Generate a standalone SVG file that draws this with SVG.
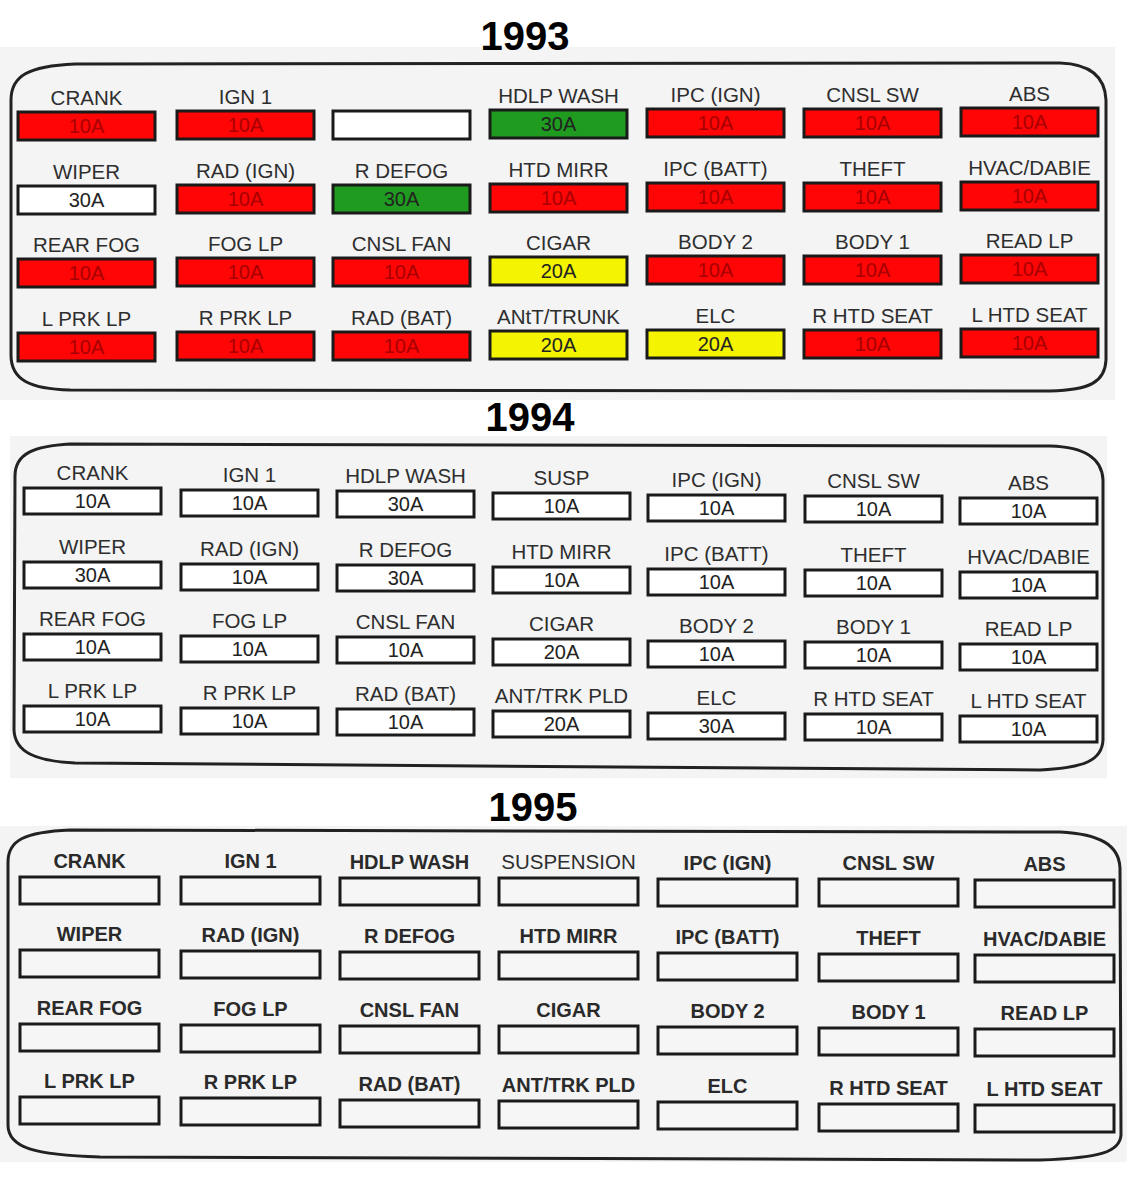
<svg xmlns="http://www.w3.org/2000/svg" width="1132" height="1184" viewBox="0 0 1132 1184">
<style>
.bg{fill:#f4f4f4}
.outline{fill:none;stroke:#222;stroke-width:3}
.title{font-family:"Liberation Sans",Arial,sans-serif;font-weight:bold;font-size:40px;fill:#000;text-anchor:middle}
.lbl{font-family:"Liberation Sans",Arial,sans-serif;font-size:20.5px;fill:#2e2e2e;text-anchor:middle}
.lbl5{font-family:"Liberation Sans",Arial,sans-serif;font-size:20px;font-weight:bold;fill:#2a2a2a;text-anchor:middle}
.val{font-family:"Liberation Sans",Arial,sans-serif;font-size:20px;fill:#222;text-anchor:middle}
.valr{font-family:"Liberation Sans",Arial,sans-serif;font-size:20px;fill:#a80000;text-anchor:middle}
.box{stroke:#1a1a1a;stroke-width:3}
.red{fill:#ff0505}
.grn{fill:#1f9c1f}
.yel{fill:#f4f400}
.wht{fill:#ffffff}
.box4{fill:#f6f6f6;stroke:#1a1a1a;stroke-width:3}
</style>
<rect x="0" y="0" width="1132" height="1184" fill="#ffffff"/>

<!-- 1993 panel -->
<g id="panel-1993">
<rect class="bg" x="0" y="47" width="1115" height="353"/>
<text class="title" x="525" y="50">1993</text>
<path class="outline" d="M11,100 C11,76 28,66 75,64 L1060,63 C1090,64 1105,76 1106,100 L1106,360 C1105,382 1090,390 1050,391 L70,390 C30,389 11,380 11,355 Z"/>
<g id="f93-crank"><rect class="box red" x="18" y="112" width="137" height="28"/><text class="lbl" x="86.5" y="105">CRANK</text><text class="valr" x="86.5" y="133">10A</text></g>
<g id="f93-ign1"><rect class="box red" x="177" y="111" width="137" height="28"/><text class="lbl" x="245.5" y="104">IGN 1</text><text class="valr" x="245.5" y="132">10A</text></g>
<g id="f93-blank"><rect class="box wht" x="333" y="111" width="137" height="28"/></g>
<g id="f93-hdlp"><rect class="box grn" x="490" y="110" width="137" height="28"/><text class="lbl" x="558.5" y="103">HDLP WASH</text><text class="val" x="558.5" y="131">30A</text></g>
<g id="f93-ipcign"><rect class="box red" x="647" y="109" width="137" height="28"/><text class="lbl" x="715.5" y="102">IPC (IGN)</text><text class="valr" x="715.5" y="130">10A</text></g>
<g id="f93-cnslsw"><rect class="box red" x="804" y="109" width="137" height="28"/><text class="lbl" x="872.5" y="102">CNSL SW</text><text class="valr" x="872.5" y="130">10A</text></g>
<g id="f93-abs"><rect class="box red" x="961" y="108" width="137" height="28"/><text class="lbl" x="1029.5" y="101">ABS</text><text class="valr" x="1029.5" y="129">10A</text></g>

<g id="f93-wiper"><rect class="box wht" x="18" y="186" width="137" height="28"/><text class="lbl" x="86.5" y="179">WIPER</text><text class="val" x="86.5" y="207">30A</text></g>
<g id="f93-radign"><rect class="box red" x="177" y="185" width="137" height="28"/><text class="lbl" x="245.5" y="178">RAD (IGN)</text><text class="valr" x="245.5" y="206">10A</text></g>
<g id="f93-rdefog"><rect class="box grn" x="333" y="185" width="137" height="28"/><text class="lbl" x="401.5" y="178">R DEFOG</text><text class="val" x="401.5" y="206">30A</text></g>
<g id="f93-htdmirr"><rect class="box red" x="490" y="184" width="137" height="28"/><text class="lbl" x="558.5" y="177">HTD MIRR</text><text class="valr" x="558.5" y="205">10A</text></g>
<g id="f93-ipcbatt"><rect class="box red" x="647" y="183" width="137" height="28"/><text class="lbl" x="715.5" y="176">IPC (BATT)</text><text class="valr" x="715.5" y="204">10A</text></g>
<g id="f93-theft"><rect class="box red" x="804" y="183" width="137" height="28"/><text class="lbl" x="872.5" y="176">THEFT</text><text class="valr" x="872.5" y="204">10A</text></g>
<g id="f93-hvac"><rect class="box red" x="961" y="182" width="137" height="28"/><text class="lbl" x="1029.5" y="175">HVAC/DABIE</text><text class="valr" x="1029.5" y="203">10A</text></g>

<g id="f93-rearfog"><rect class="box red" x="18" y="259" width="137" height="28"/><text class="lbl" x="86.5" y="252">REAR FOG</text><text class="valr" x="86.5" y="280">10A</text></g>
<g id="f93-foglp"><rect class="box red" x="177" y="258" width="137" height="28"/><text class="lbl" x="245.5" y="251">FOG LP</text><text class="valr" x="245.5" y="279">10A</text></g>
<g id="f93-cnslfan"><rect class="box red" x="333" y="258" width="137" height="28"/><text class="lbl" x="401.5" y="251">CNSL FAN</text><text class="valr" x="401.5" y="279">10A</text></g>
<g id="f93-cigar"><rect class="box yel" x="490" y="257" width="137" height="28"/><text class="lbl" x="558.5" y="250">CIGAR</text><text class="val" x="558.5" y="278">20A</text></g>
<g id="f93-body2"><rect class="box red" x="647" y="256" width="137" height="28"/><text class="lbl" x="715.5" y="249">BODY 2</text><text class="valr" x="715.5" y="277">10A</text></g>
<g id="f93-body1"><rect class="box red" x="804" y="256" width="137" height="28"/><text class="lbl" x="872.5" y="249">BODY 1</text><text class="valr" x="872.5" y="277">10A</text></g>
<g id="f93-readlp"><rect class="box red" x="961" y="255" width="137" height="28"/><text class="lbl" x="1029.5" y="248">READ LP</text><text class="valr" x="1029.5" y="276">10A</text></g>

<g id="f93-lprklp"><rect class="box red" x="18" y="333" width="137" height="28"/><text class="lbl" x="86.5" y="326">L PRK LP</text><text class="valr" x="86.5" y="354">10A</text></g>
<g id="f93-rprklp"><rect class="box red" x="177" y="332" width="137" height="28"/><text class="lbl" x="245.5" y="325">R PRK LP</text><text class="valr" x="245.5" y="353">10A</text></g>
<g id="f93-radbat"><rect class="box red" x="333" y="332" width="137" height="28"/><text class="lbl" x="401.5" y="325">RAD (BAT)</text><text class="valr" x="401.5" y="353">10A</text></g>
<g id="f93-anttrunk"><rect class="box yel" x="490" y="331" width="137" height="28"/><text class="lbl" x="558.5" y="324">ANtT/TRUNK</text><text class="val" x="558.5" y="352">20A</text></g>
<g id="f93-elc"><rect class="box yel" x="647" y="330" width="137" height="28"/><text class="lbl" x="715.5" y="323">ELC</text><text class="val" x="715.5" y="351">20A</text></g>
<g id="f93-rhtdseat"><rect class="box red" x="804" y="330" width="137" height="28"/><text class="lbl" x="872.5" y="323">R HTD SEAT</text><text class="valr" x="872.5" y="351">10A</text></g>
<g id="f93-lhtdseat"><rect class="box red" x="961" y="329" width="137" height="28"/><text class="lbl" x="1029.5" y="322">L HTD SEAT</text><text class="valr" x="1029.5" y="350">10A</text></g>
</g>

<!-- 1994 panel -->
<g id="panel-1994">
<rect class="bg" x="10" y="436" width="1097" height="342"/>
<text class="title" x="530" y="431">1994</text>
<path class="outline" d="M15,476 C15,453 35,446 70,444 L1050,446 C1085,447 1102,458 1103,480 L1103,740 C1102,760 1085,768 1040,770 L75,763 C35,761 15,752 14,730 Z"/>
<g id="f94-crank"><rect class="box wht" x="24" y="488" width="137" height="26"/><text class="lbl" x="92.5" y="480">CRANK</text><text class="val" x="92.5" y="508">10A</text></g>
<g id="f94-ign1"><rect class="box wht" x="181" y="490" width="137" height="26"/><text class="lbl" x="249.5" y="482">IGN 1</text><text class="val" x="249.5" y="510">10A</text></g>
<g id="f94-hdlp"><rect class="box wht" x="337" y="491" width="137" height="26"/><text class="lbl" x="405.5" y="483">HDLP WASH</text><text class="val" x="405.5" y="511">30A</text></g>
<g id="f94-susp"><rect class="box wht" x="493" y="493" width="137" height="26"/><text class="lbl" x="561.5" y="485">SUSP</text><text class="val" x="561.5" y="513">10A</text></g>
<g id="f94-ipcign"><rect class="box wht" x="648" y="495" width="137" height="26"/><text class="lbl" x="716.5" y="487">IPC (IGN)</text><text class="val" x="716.5" y="515">10A</text></g>
<g id="f94-cnslsw"><rect class="box wht" x="805" y="496" width="137" height="26"/><text class="lbl" x="873.5" y="488">CNSL SW</text><text class="val" x="873.5" y="516">10A</text></g>
<g id="f94-abs"><rect class="box wht" x="960" y="498" width="137" height="26"/><text class="lbl" x="1028.5" y="490">ABS</text><text class="val" x="1028.5" y="518">10A</text></g>

<g id="f94-wiper"><rect class="box wht" x="24" y="562" width="137" height="26"/><text class="lbl" x="92.5" y="554">WIPER</text><text class="val" x="92.5" y="582">30A</text></g>
<g id="f94-radign"><rect class="box wht" x="181" y="564" width="137" height="26"/><text class="lbl" x="249.5" y="556">RAD (IGN)</text><text class="val" x="249.5" y="584">10A</text></g>
<g id="f94-rdefog"><rect class="box wht" x="337" y="565" width="137" height="26"/><text class="lbl" x="405.5" y="557">R DEFOG</text><text class="val" x="405.5" y="585">30A</text></g>
<g id="f94-htdmirr"><rect class="box wht" x="493" y="567" width="137" height="26"/><text class="lbl" x="561.5" y="559">HTD MIRR</text><text class="val" x="561.5" y="587">10A</text></g>
<g id="f94-ipcbatt"><rect class="box wht" x="648" y="569" width="137" height="26"/><text class="lbl" x="716.5" y="561">IPC (BATT)</text><text class="val" x="716.5" y="589">10A</text></g>
<g id="f94-theft"><rect class="box wht" x="805" y="570" width="137" height="26"/><text class="lbl" x="873.5" y="562">THEFT</text><text class="val" x="873.5" y="590">10A</text></g>
<g id="f94-hvac"><rect class="box wht" x="960" y="572" width="137" height="26"/><text class="lbl" x="1028.5" y="564">HVAC/DABIE</text><text class="val" x="1028.5" y="592">10A</text></g>

<g id="f94-rearfog"><rect class="box wht" x="24" y="634" width="137" height="26"/><text class="lbl" x="92.5" y="626">REAR FOG</text><text class="val" x="92.5" y="654">10A</text></g>
<g id="f94-foglp"><rect class="box wht" x="181" y="636" width="137" height="26"/><text class="lbl" x="249.5" y="628">FOG LP</text><text class="val" x="249.5" y="656">10A</text></g>
<g id="f94-cnslfan"><rect class="box wht" x="337" y="637" width="137" height="26"/><text class="lbl" x="405.5" y="629">CNSL FAN</text><text class="val" x="405.5" y="657">10A</text></g>
<g id="f94-cigar"><rect class="box wht" x="493" y="639" width="137" height="26"/><text class="lbl" x="561.5" y="631">CIGAR</text><text class="val" x="561.5" y="659">20A</text></g>
<g id="f94-body2"><rect class="box wht" x="648" y="641" width="137" height="26"/><text class="lbl" x="716.5" y="633">BODY 2</text><text class="val" x="716.5" y="661">10A</text></g>
<g id="f94-body1"><rect class="box wht" x="805" y="642" width="137" height="26"/><text class="lbl" x="873.5" y="634">BODY 1</text><text class="val" x="873.5" y="662">10A</text></g>
<g id="f94-readlp"><rect class="box wht" x="960" y="644" width="137" height="26"/><text class="lbl" x="1028.5" y="636">READ LP</text><text class="val" x="1028.5" y="664">10A</text></g>

<g id="f94-lprklp"><rect class="box wht" x="24" y="706" width="137" height="26"/><text class="lbl" x="92.5" y="698">L PRK LP</text><text class="val" x="92.5" y="726">10A</text></g>
<g id="f94-rprklp"><rect class="box wht" x="181" y="708" width="137" height="26"/><text class="lbl" x="249.5" y="700">R PRK LP</text><text class="val" x="249.5" y="728">10A</text></g>
<g id="f94-radbat"><rect class="box wht" x="337" y="709" width="137" height="26"/><text class="lbl" x="405.5" y="701">RAD (BAT)</text><text class="val" x="405.5" y="729">10A</text></g>
<g id="f94-anttrk"><rect class="box wht" x="493" y="711" width="137" height="26"/><text class="lbl" x="561.5" y="703">ANT/TRK PLD</text><text class="val" x="561.5" y="731">20A</text></g>
<g id="f94-elc"><rect class="box wht" x="648" y="713" width="137" height="26"/><text class="lbl" x="716.5" y="705">ELC</text><text class="val" x="716.5" y="733">30A</text></g>
<g id="f94-rhtdseat"><rect class="box wht" x="805" y="714" width="137" height="26"/><text class="lbl" x="873.5" y="706">R HTD SEAT</text><text class="val" x="873.5" y="734">10A</text></g>
<g id="f94-lhtdseat"><rect class="box wht" x="960" y="716" width="137" height="26"/><text class="lbl" x="1028.5" y="708">L HTD SEAT</text><text class="val" x="1028.5" y="736">10A</text></g>
</g>

<!-- 1995 panel -->
<g id="panel-1995">
<rect class="bg" x="0" y="826" width="1127" height="336"/>
<text class="title" x="533" y="821">1995</text>
<path class="outline" d="M8,862 C8,840 25,832 70,830 L1060,832 C1100,834 1119,845 1120,868 L1121,1135 C1120,1152 1100,1158 1040,1160 L100,1157 C35,1155 8,1148 8,1125 Z"/>
<g id="f95-crank"><rect class="box4" x="20" y="877" width="139" height="27"/><text class="lbl5" x="89.5" y="868">CRANK</text></g>
<g id="f95-ign1"><rect class="box4" x="181" y="877" width="139" height="27"/><text class="lbl5" x="250.5" y="868">IGN 1</text></g>
<g id="f95-hdlp"><rect class="box4" x="340" y="878" width="139" height="27"/><text class="lbl5" x="409.5" y="869">HDLP WASH</text></g>
<g id="f95-susp"><rect class="box4" x="499" y="878" width="139" height="27"/><text class="lbl" x="568.5" y="869">SUSPENSION</text></g>
<g id="f95-ipcign"><rect class="box4" x="658" y="879" width="139" height="27"/><text class="lbl5" x="727.5" y="870">IPC (IGN)</text></g>
<g id="f95-cnslsw"><rect class="box4" x="819" y="879" width="139" height="27"/><text class="lbl5" x="888.5" y="870">CNSL SW</text></g>
<g id="f95-abs"><rect class="box4" x="975" y="880" width="139" height="27"/><text class="lbl5" x="1044.5" y="871">ABS</text></g>

<g id="f95-wiper"><rect class="box4" x="20" y="950" width="139" height="27"/><text class="lbl5" x="89.5" y="941">WIPER</text></g>
<g id="f95-radign"><rect class="box4" x="181" y="951" width="139" height="27"/><text class="lbl5" x="250.5" y="942">RAD (IGN)</text></g>
<g id="f95-rdefog"><rect class="box4" x="340" y="952" width="139" height="27"/><text class="lbl5" x="409.5" y="943">R DEFOG</text></g>
<g id="f95-htdmirr"><rect class="box4" x="499" y="952" width="139" height="27"/><text class="lbl5" x="568.5" y="943">HTD MIRR</text></g>
<g id="f95-ipcbatt"><rect class="box4" x="658" y="953" width="139" height="27"/><text class="lbl5" x="727.5" y="944">IPC (BATT)</text></g>
<g id="f95-theft"><rect class="box4" x="819" y="954" width="139" height="27"/><text class="lbl5" x="888.5" y="945">THEFT</text></g>
<g id="f95-hvac"><rect class="box4" x="975" y="955" width="139" height="27"/><text class="lbl5" x="1044.5" y="946">HVAC/DABIE</text></g>

<g id="f95-rearfog"><rect class="box4" x="20" y="1024" width="139" height="27"/><text class="lbl5" x="89.5" y="1015">REAR FOG</text></g>
<g id="f95-foglp"><rect class="box4" x="181" y="1025" width="139" height="27"/><text class="lbl5" x="250.5" y="1016">FOG LP</text></g>
<g id="f95-cnslfan"><rect class="box4" x="340" y="1026" width="139" height="27"/><text class="lbl5" x="409.5" y="1017">CNSL FAN</text></g>
<g id="f95-cigar"><rect class="box4" x="499" y="1026" width="139" height="27"/><text class="lbl5" x="568.5" y="1017">CIGAR</text></g>
<g id="f95-body2"><rect class="box4" x="658" y="1027" width="139" height="27"/><text class="lbl5" x="727.5" y="1018">BODY 2</text></g>
<g id="f95-body1"><rect class="box4" x="819" y="1028" width="139" height="27"/><text class="lbl5" x="888.5" y="1019">BODY 1</text></g>
<g id="f95-readlp"><rect class="box4" x="975" y="1029" width="139" height="27"/><text class="lbl5" x="1044.5" y="1020">READ LP</text></g>

<g id="f95-lprklp"><rect class="box4" x="20" y="1097" width="139" height="27"/><text class="lbl5" x="89.5" y="1088">L PRK LP</text></g>
<g id="f95-rprklp"><rect class="box4" x="181" y="1098" width="139" height="27"/><text class="lbl5" x="250.5" y="1089">R PRK LP</text></g>
<g id="f95-radbat"><rect class="box4" x="340" y="1100" width="139" height="27"/><text class="lbl5" x="409.5" y="1091">RAD (BAT)</text></g>
<g id="f95-anttrk"><rect class="box4" x="499" y="1101" width="139" height="27"/><text class="lbl5" x="568.5" y="1092">ANT/TRK PLD</text></g>
<g id="f95-elc"><rect class="box4" x="658" y="1102" width="139" height="27"/><text class="lbl5" x="727.5" y="1093">ELC</text></g>
<g id="f95-rhtdseat"><rect class="box4" x="819" y="1104" width="139" height="27"/><text class="lbl5" x="888.5" y="1095">R HTD SEAT</text></g>
<g id="f95-lhtdseat"><rect class="box4" x="975" y="1105" width="139" height="27"/><text class="lbl5" x="1044.5" y="1096">L HTD SEAT</text></g>
</g>
</svg>
